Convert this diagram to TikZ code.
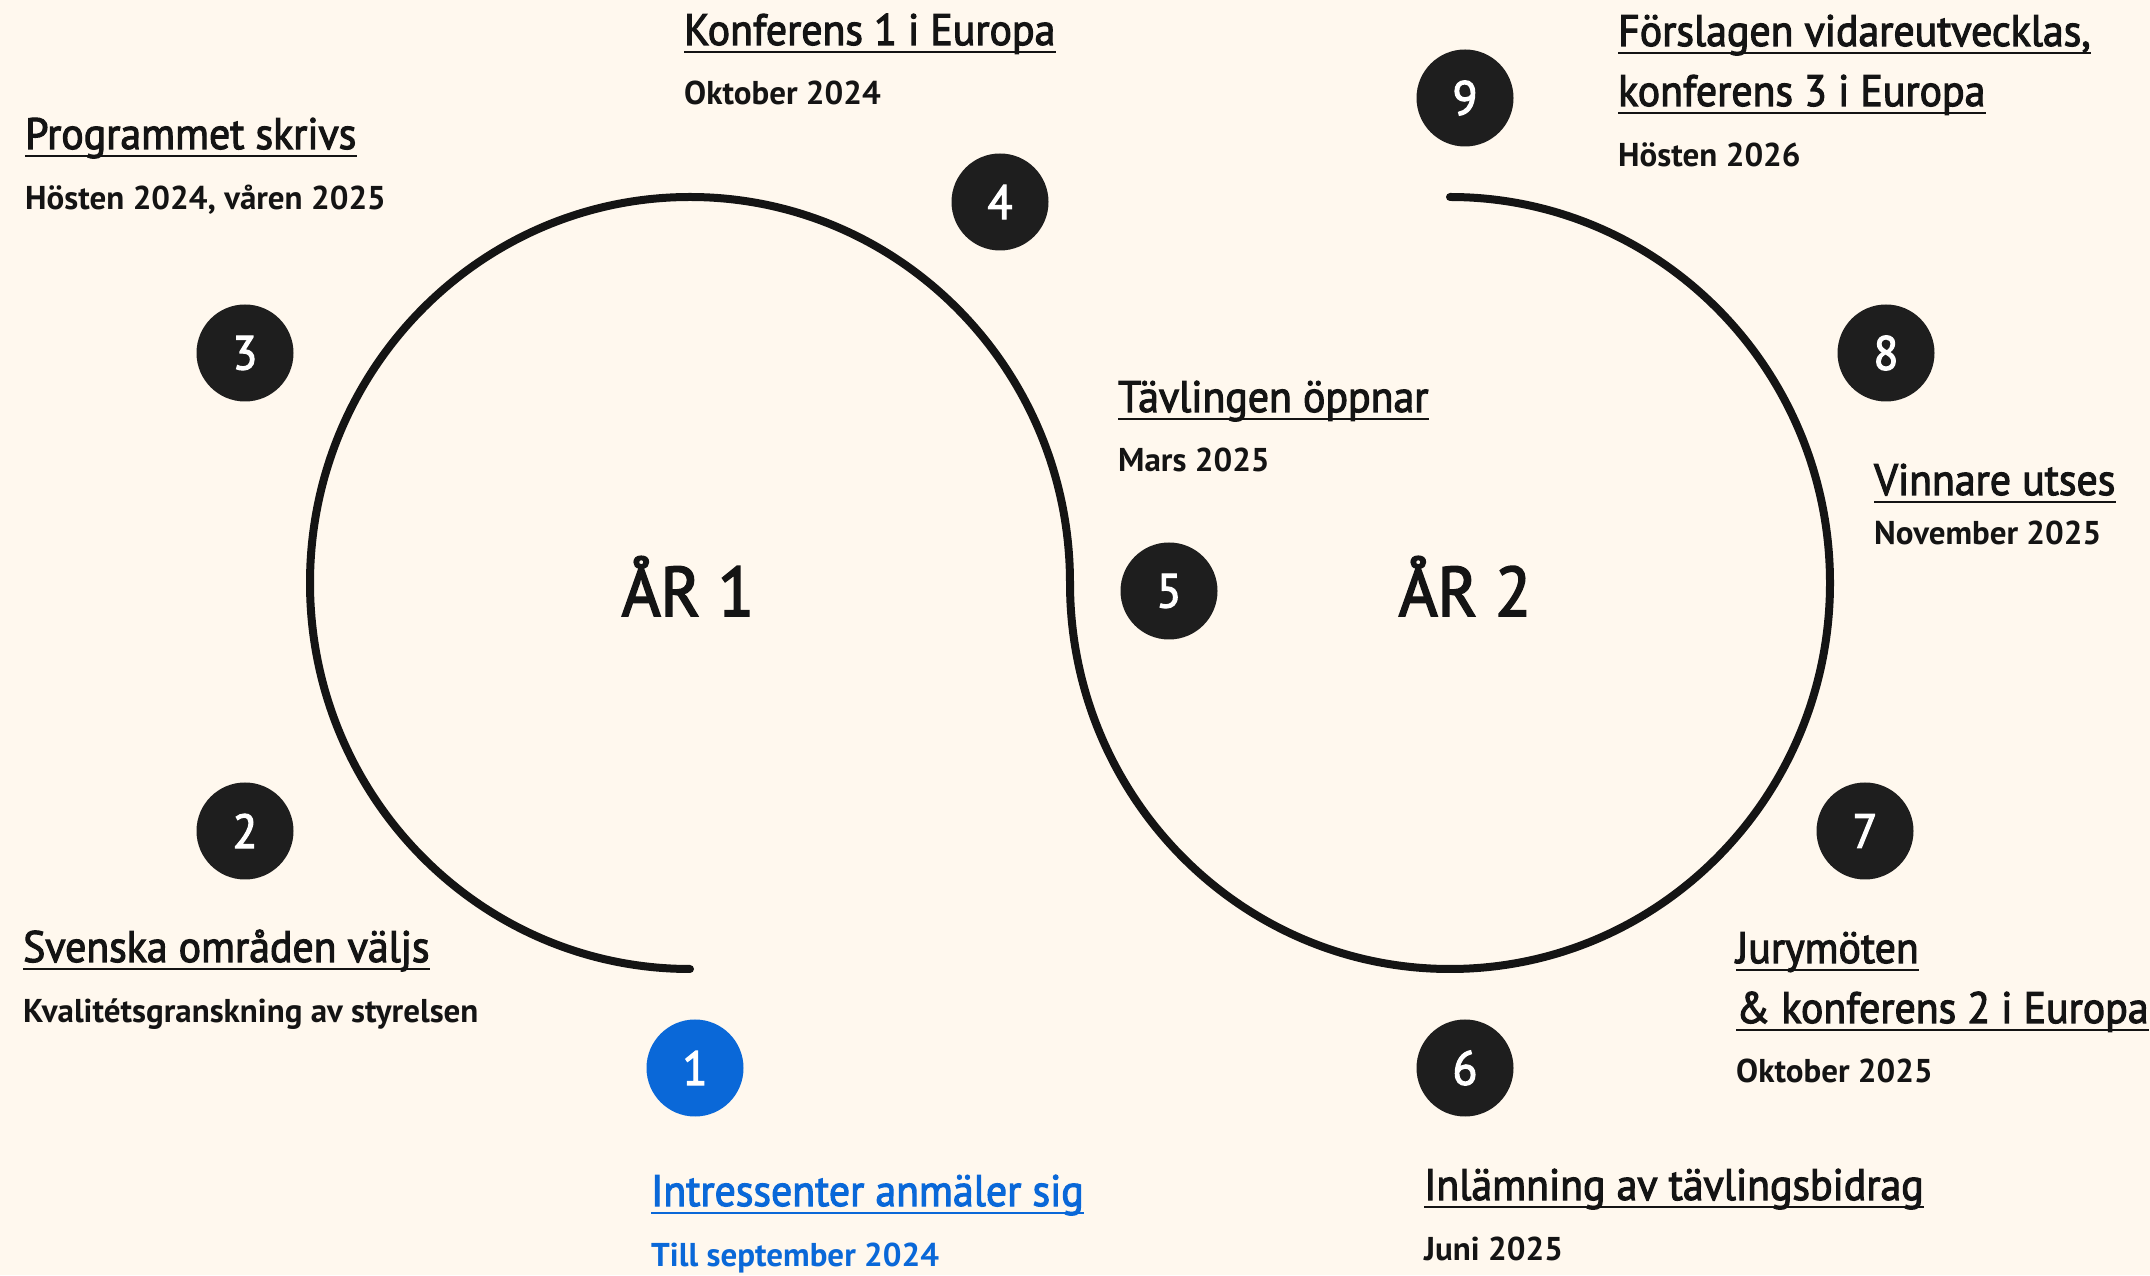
\documentclass[tikz,border=0pt]{standalone}
\usepackage{fontspec}
\setmainfont{PT Sans}
\newfontfamily\headfont{PT Sans}[FakeStretch=0.95, FakeBold=2.5]
\newfontfamily\subfont{PT Sans Bold}[FakeStretch=1.0]
\usepackage{tikz}
\usetikzlibrary{positioning}

\definecolor{cream}{HTML}{FFF8EE}
\definecolor{ink}{HTML}{141414}
\definecolor{badgefill}{HTML}{1E1E1E}
\definecolor{signblue}{HTML}{0A68D8}

\begin{document}
\begin{tikzpicture}[x=1pt,y=1pt]
        \tikzstyle{every node}=[inner sep=0pt]
        \tikzstyle{badge}=[circle, fill=badgefill, minimum size=97pt, text=white, font=\headfont\fontsize{48}{48}\selectfont]
        \tikzstyle{head}=[anchor=base west, text=ink, font=\headfont\fontsize{44}{50}\selectfont]
        \tikzstyle{sub}=[anchor=base west, text=ink, font=\subfont\fontsize{33}{40}\selectfont]
        \tikzstyle{uline}=[ink, line width=2.5pt]
        \tikzstyle{year}=[anchor=base, text=ink, font=\headfont\fontsize{70}{70}\selectfont]

        \useasboundingbox (0,0) rectangle (2150,1275);
        \fill[cream] (0,0) rectangle (2150,1275);

        % S-shaped track
        \coordinate (start) at (690,306);
        \draw[ink, line width=8pt, line cap=round] (start)
            arc[start angle=270, end angle=0, x radius=380, y radius=386]
            arc[start angle=180, end angle=450, x radius=380, y radius=386];

        \node[year] (y1) at (688,659) {ÅR 1};
        \node[year] (y2) at (1465,659) {ÅR 2};

        \node[badge, fill=signblue] (b1) at (695,207) {1};
        \node[badge] (b2) at (245,444) {2};
        \node[badge] (b3) at (245,922) {3};
        \node[badge] (b4) at (1000,1073) {4};
        \node[badge] (b5) at (1169,684) {5};
        \node[badge] (b6) at (1465,207) {6};
        \node[badge] (b7) at (1865,444) {7};
        \node[badge] (b8) at (1886,922) {8};
        \node[badge] (b9) at (1465,1177) {9};

        \node[head, text=signblue] (h1) at (651,69) {Intressenter anmäler sig};
        \node[sub, text=signblue] (s1) at ([yshift=-60pt]h1.base west) {Till september 2024};

        \node[head] (h2) at (23,313) {Svenska områden väljs};
        \node[sub] (s2) at ([yshift=-61pt]h2.base west) {Kvalitétsgranskning av styrelsen};

        \node[head] (h3) at (25,1126) {Programmet skrivs};
        \node[sub] (s3) at ([yshift=-61pt]h3.base west) {Hösten 2024, våren 2025};

        \node[head] (h4) at (684,1230) {Konferens 1 i Europa};
        \node[sub] (s4) at ([yshift=-60pt]h4.base west) {Oktober 2024};

        \node[head] (h5) at (1118,863) {Tävlingen öppnar};
        \node[sub] (s5) at ([yshift=-60pt]h5.base west) {Mars 2025};

        \node[head] (h6) at (1424,75) {Inlämning av tävlingsbidrag};
        \node[sub] (s6) at ([yshift=-60pt]h6.base west) {Juni 2025};

        \node[head] (h7a) at (1736,312) {Jurymöten};
        \node[head] (h7b) at ([yshift=-60pt]h7a.base west) {\& konferens 2 i Europa};
        \node[sub] (s7) at ([yshift=-59pt]h7b.base west) {Oktober 2025};

        \node[head] (h8) at (1874,780) {Vinnare utses};
        \node[sub] (s8) at ([yshift=-50pt]h8.base west) {November 2025};

        \node[head] (h9a) at (1618,1229) {Förslagen vidareutvecklas,};
        \node[head] (h9b) at ([yshift=-60pt]h9a.base west) {konferens 3 i Europa};
        \node[sub] (s9) at ([yshift=-61pt]h9b.base west) {Hösten 2026};

        % underlines
        \draw[uline, signblue] ([yshift=-7pt]h1.base west) -- ([yshift=-7pt]h1.base east);
        \foreach \h in {h2,h3,h4,h5,h6,h7a,h7b,h8,h9a,h9b}
            \draw[uline] ([yshift=-7pt]\h.base west) -- ([yshift=-7pt]\h.base east);

    \end{tikzpicture}
\end{document}
